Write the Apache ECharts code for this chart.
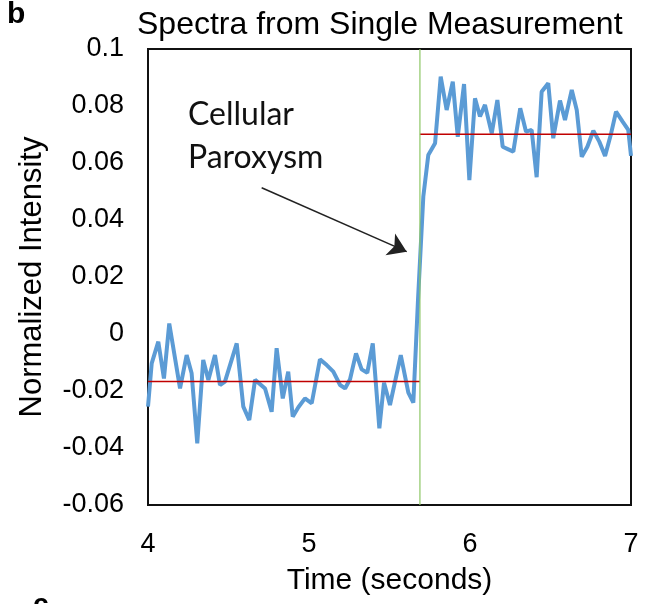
<!DOCTYPE html>
<html>
<head>
<meta charset="utf-8">
<script src="https://cdn.jsdelivr.net/npm/echarts@6/dist/echarts.min.js"></script>
<style>
html, body { margin: 0; padding: 0; background: #fff; }
#chart { width: 655px; height: 604px; }
</style>
</head>
<body>
<div id="chart"></div>
<script>
// measured signal (time in s, normalized intensity)
var times = [4.000, 4.023, 4.064, 4.099, 4.132, 4.199, 4.240, 4.271, 4.306, 4.343,
	4.375, 4.416, 4.447, 4.478, 4.551, 4.592, 4.629, 4.665, 4.727, 4.768,
	4.799, 4.837, 4.871, 4.899, 4.934, 4.975, 5.017, 5.068, 5.110, 5.151,
	5.193, 5.224, 5.255, 5.292, 5.327, 5.362, 5.396, 5.437, 5.466, 5.503,
	5.570, 5.617, 5.648, 5.677, 5.710, 5.741, 5.783, 5.818, 5.855, 5.893,
	5.924, 5.963, 5.996, 6.031, 6.062, 6.093, 6.135, 6.170, 6.203, 6.238,
	6.269, 6.312, 6.348, 6.383, 6.414, 6.445, 6.486, 6.517, 6.559, 6.590,
	6.632, 6.663, 6.694, 6.729, 6.766, 6.803, 6.839, 6.874, 6.907, 6.948,
	6.983, 7.000];
var intensity = [-0.0255, -0.0103, -0.0027, -0.0156, 0.0037, -0.0191, -0.0074, -0.0138, -0.0384, -0.0091,
	-0.0161, -0.0074, -0.0179, -0.0167, -0.0033, -0.0255, -0.0302, -0.0161, -0.0191, -0.0273,
	-0.0050, -0.0226, -0.0132, -0.0290, -0.0257, -0.0226, -0.0243, -0.0089, -0.0109, -0.0132,
	-0.0179, -0.0191, -0.0159, -0.0068, -0.0124, -0.0136, -0.0033, -0.0331, -0.0171, -0.0249,
	-0.0074, -0.0206, -0.0241, 0.0119, 0.0482, 0.0628, 0.0669, 0.0903, 0.0786, 0.0885,
	0.0692, 0.0877, 0.0540, 0.0827, 0.0763, 0.0804, 0.0704, 0.0821, 0.0657, 0.0648,
	0.0640, 0.0792, 0.0710, 0.0716, 0.0550, 0.0850, 0.0880, 0.0687, 0.0819, 0.0751,
	0.0856, 0.0786, 0.0622, 0.0657, 0.0713, 0.0675, 0.0625, 0.0698, 0.0780, 0.0745,
	0.0716, 0.0625];

// mean levels before / after the event
var onsetTime = 5.689;
var baseBefore = -0.0167;
var baseAfter = 0.0701;

// annotation arrow (data coords)
var arrowFrom = [4.706, 0.0513];
var arrowTo = [5.607, 0.0289];

var xTicks = ['4', '5', '6', '7'];
var yTicks = ['-0.06', '-0.04', '-0.02', '0', '0.02', '0.04', '0.06', '0.08', '0.1'];

var font = 'Liberation Sans, Arial, sans-serif';

function pairs(xs, ys){
	var out = [];
	for (var i = 0; i < xs.length; i++) out.push([xs[i], ys[i]]);
	return out;
}
function tickLabel(list){
	return function(v){
		for (var i = 0; i < list.length; i++) {
			if (Math.abs(parseFloat(list[i]) - v) < 1e-6) return list[i];
		}
		return '';
	};
}

var myChart = echarts.init(document.getElementById('chart'));
var option = {
	animation: false,
	title: {
		text: 'Spectra from Single Measurement',
		left: 132,
		top: 4,
		textStyle: { fontFamily: font, fontSize: 32, fontWeight: 'normal', color: '#000' }
	},
	grid: {
		left: 148, right: 24, top: 49, bottom: 99,
		show: true, borderColor: '#111', borderWidth: 2
	},
	xAxis: {
		type: 'value', min: 4, max: 7, interval: 1,
		name: 'Time (seconds)', nameLocation: 'middle', nameGap: 61,
		nameTextStyle: { fontFamily: font, fontSize: 30, color: '#000' },
		axisLine: { show: true, onZero: false, lineStyle: { color: '#111', width: 2 } },
		axisTick: { show: false },
		splitLine: { show: false },
		axisLabel: { fontFamily: font, fontSize: 27, color: '#000', margin: 26, formatter: tickLabel(xTicks) }
	},
	yAxis: {
		type: 'value', min: -0.06, max: 0.1, interval: 0.02,
		name: 'Normalized Intensity', nameLocation: 'middle', nameGap: 100,
		nameTextStyle: { fontFamily: font, fontSize: 31, color: '#000' },
		axisLine: { show: true, onZero: false, lineStyle: { color: '#111', width: 2 } },
		axisTick: { show: false },
		splitLine: { show: false },
		axisLabel: { fontFamily: font, fontSize: 27, color: '#000', margin: 24, formatter: tickLabel(yTicks) }
	},
	series: [
		{
			type: 'line',
			data: pairs(times, intensity),
			showSymbol: false,
			lineStyle: { color: '#5B9BD5', width: 4 },
			z: 2
		},
		{
			type: 'line',
			data: [[4, baseBefore], [onsetTime, baseBefore]],
			showSymbol: false,
			lineStyle: { color: '#C00000', width: 1.5 },
			z: 3
		},
		{
			type: 'line',
			data: [[onsetTime, baseAfter], [7, baseAfter]],
			showSymbol: false,
			lineStyle: { color: '#C00000', width: 1.5 },
			z: 3
		},
		{
			type: 'line',
			data: [[onsetTime, -0.06], [onsetTime, 0.1]],
			showSymbol: false,
			lineStyle: { color: '#8DC665', width: 1.2 },
			z: 4,
			markLine: {
				silent: true,
				symbol: ['none', 'arrow'],
				symbolSize: 18,
				label: { show: false },
				lineStyle: { color: '#222', width: 1.5, type: 'solid' },
				data: [[{ coord: arrowFrom }, { coord: arrowTo }]]
			}
		}
	],
	graphic: [
		{
			type: 'text', left: 7, top: 0,
			style: { text: 'b', font: 'bold 30px ' + font, fill: '#000' }
		},
		{
			type: 'text', left: 33, top: 591,
			style: { text: 'c', font: 'bold 28px ' + font, fill: '#000' }
		},
		{
			type: 'text', left: 188, top: 93,
			style: { text: 'Cellular\nParoxysm', font: '32px Lato', lineHeight: 43, fill: '#111' }
		}
	]
};
myChart.setOption(option);
</script>
</body>
</html>
